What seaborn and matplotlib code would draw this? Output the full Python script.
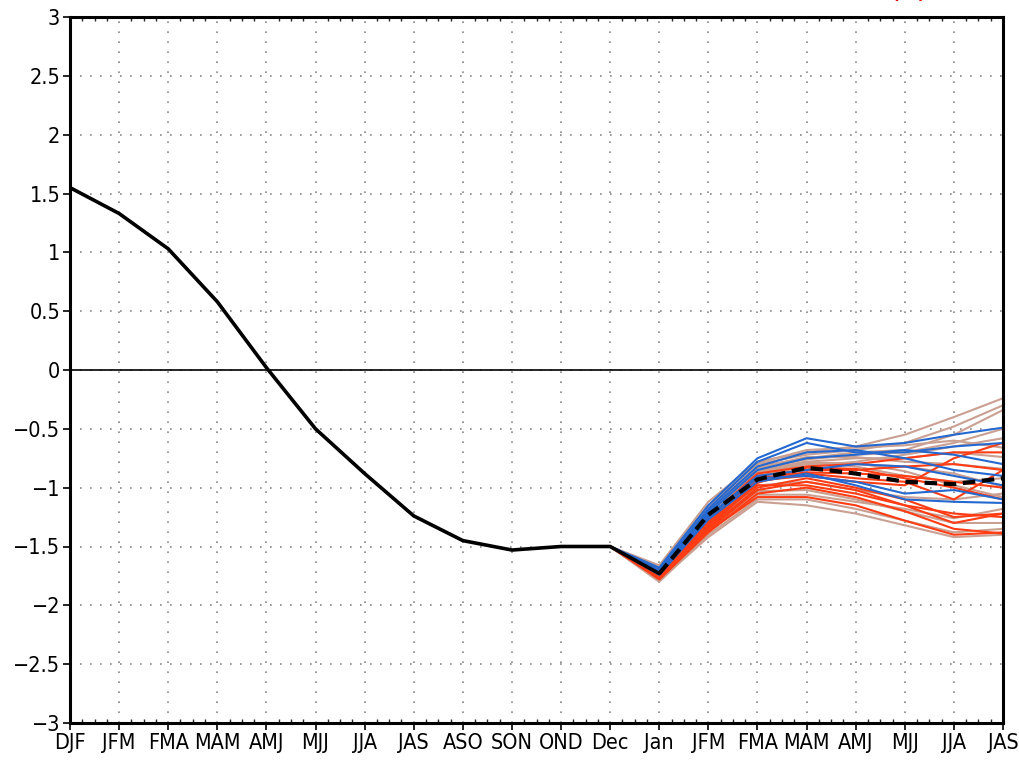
import numpy as np
import pandas as pd
import seaborn as sns
import matplotlib.pyplot as plt
import matplotlib.font_manager as fm
from matplotlib.ticker import AutoMinorLocator

# подписи по оси x (наблюдения + прогноз)
seasons = ["DJF", "JFM", "FMA", "MAM", "AMJ", "MJJ", "JJA", "JAS", "ASO", "SON",
           "OND", "Dec", "Jan", "JFM", "FMA", "MAM", "AMJ", "MJJ", "JJA", "JAS"]
y_ticks = [-3, -2.5, -2, -1.5, -1, -0.5, 0, 0.5, 1, 1.5, 2, 2.5, 3]

# наблюдения DJF..Jan
observed = [1.55, 1.33, 1.03, 0.58, 0.02, -0.50, -0.88, -1.24, -1.45, -1.53,
            -1.50, -1.50, -1.73]

# средний прогноз ансамбля Jan..JAS
ens_mean = [-1.73, -1.23, -0.93, -0.83, -0.88, -0.95, -0.97, -0.92]

# члены ансамбля Dec..JAS
tan_members = [
    [-1.5, -1.66, -1.12, -0.78, -0.70, -0.65, -0.55, -0.40, -0.24],
    [-1.5, -1.68, -1.15, -0.80, -0.72, -0.68, -0.62, -0.48, -0.30],
    [-1.5, -1.70, -1.18, -0.82, -0.75, -0.70, -0.68, -0.55, -0.34],
    [-1.5, -1.72, -1.22, -0.85, -0.78, -0.75, -0.75, -0.70, -0.74],
    [-1.5, -1.74, -1.28, -0.88, -0.80, -0.80, -0.82, -0.88, -0.99],
    [-1.5, -1.76, -1.34, -0.98, -0.95, -1.02, -1.08, -1.10, -1.05],
    [-1.5, -1.79, -1.42, -1.12, -1.15, -1.22, -1.32, -1.42, -1.40],
    [-1.5, -1.80, -1.40, -1.10, -1.10, -1.18, -1.28, -1.38, -1.35],
    [-1.5, -1.75, -1.30, -0.90, -0.82, -0.78, -0.72, -0.65, -0.58],
    [-1.5, -1.78, -1.36, -1.03, -1.02, -1.10, -1.20, -1.30, -1.30],
    [-1.5, -1.73, -1.25, -0.86, -0.78, -0.82, -0.90, -0.95, -0.92],
    [-1.5, -1.71, -1.20, -0.84, -0.76, -0.72, -0.70, -0.62, -0.50],
    [-1.5, -1.69, -1.17, -0.79, -0.68, -0.66, -0.64, -0.60, -0.66],
    [-1.5, -1.77, -1.38, -1.06, -1.06, -1.12, -1.18, -1.26, -1.18],
    [-1.5, -1.72, -1.21, -0.83, -0.74, -0.74, -0.78, -0.80, -0.84],
    [-1.5, -1.74, -1.26, -0.87, -0.79, -0.79, -0.86, -0.98, -1.08],
]
red_members = [
    [-1.5, -1.70, -1.25, -0.88, -0.82, -0.80, -0.75, -0.70, -0.70],
    [-1.5, -1.72, -1.28, -0.90, -0.85, -0.85, -0.82, -0.80, -0.85],
    [-1.5, -1.75, -1.32, -0.95, -0.88, -0.92, -0.95, -1.10, -0.85],
    [-1.5, -1.76, -1.35, -1.00, -0.92, -1.00, -1.10, -1.25, -1.22],
    [-1.5, -1.78, -1.38, -1.05, -1.00, -1.08, -1.20, -1.35, -1.39],
    [-1.5, -1.77, -1.36, -1.02, -0.95, -1.02, -1.15, -1.22, -1.25],
    [-1.5, -1.74, -1.30, -0.92, -0.87, -0.88, -0.90, -0.95, -1.00],
    [-1.5, -1.73, -1.30, -0.98, -0.98, -1.05, -1.15, -1.30, -1.22],
    [-1.5, -1.76, -1.34, -0.96, -0.83, -0.84, -0.92, -1.00, -1.10],
    [-1.5, -1.75, -1.33, -0.94, -0.90, -0.95, -0.98, -0.75, -0.62],
    [-1.5, -1.77, -1.37, -1.08, -1.08, -1.15, -1.28, -1.40, -1.38],
]
blue_members = [
    [-1.5, -1.68, -1.15, -0.75, -0.58, -0.65, -0.62, -0.55, -0.49],
    [-1.5, -1.70, -1.18, -0.78, -0.62, -0.70, -0.70, -0.65, -0.62],
    [-1.5, -1.72, -1.22, -0.85, -0.75, -0.72, -0.68, -0.72, -0.80],
    [-1.5, -1.73, -1.25, -0.92, -0.90, -0.95, -1.05, -1.02, -1.10],
    [-1.5, -1.74, -1.27, -0.95, -0.88, -0.98, -1.10, -1.12, -1.13],
    [-1.5, -1.72, -1.24, -0.90, -0.85, -0.80, -0.82, -0.90, -0.98],
    [-1.5, -1.71, -1.20, -0.82, -0.70, -0.68, -0.75, -0.85, -0.90],
]

colours = {"tan": "#c9a092", "red": "#ff3c14", "blue": "#2468d0"}

# таблица членов ансамбля в длинном формате
rows = []
uid = 0
for group, members in [("tan", tan_members), ("red", red_members), ("blue", blue_members)]:
    for m in members:
        for i, v in enumerate(m):
            rows.append({"x": 11 + i, "y": v, "group": group, "member": uid})
        uid += 1
df = pd.DataFrame(rows)

obs = pd.DataFrame({"x": np.arange(len(observed)), "y": observed})
mean = pd.DataFrame({"x": np.arange(12, 12 + len(ens_mean)), "y": ens_mean})

sns.set_style("ticks")
plt.rcParams["font.family"] = ["DejaVu Sans"]

# ищем узкий прямой шрифт, если он есть
narrow = [f for f in fm.fontManager.ttflist
          if ("Narrow" in f.name or "Condensed" in f.name
              or "condensed" in str(f.stretch))
          and f.style == "normal" and f.weight in (400, "normal", "regular")]
if narrow:
    tick_font = fm.FontProperties(fname=narrow[0].fname, size=15.5)
else:
    tick_font = fm.FontProperties(family="Liberation Sans", size=15)

fig = plt.figure(figsize=(10.19, 7.60), dpi=100)
ax = fig.add_axes([70 / 1019, 37 / 760, 933 / 1019, 706 / 760])

ax.axhline(0, color="black", lw=1.2, zorder=1)
sns.lineplot(data=df, x="x", y="y", hue="group", units="member", estimator=None,
             palette=colours, lw=1.5, legend=False, ax=ax, zorder=2)
sns.lineplot(data=obs, x="x", y="y", color="black", lw=2.6, ax=ax, zorder=4)
sns.lineplot(data=mean, x="x", y="y", color="black", lw=3, ax=ax, zorder=5,
             linestyle=(0, (3, 1.6)))

ax.set_xlim(0, len(seasons) - 1)
ax.set_ylim(-3, 3)
ax.set_xticks(np.arange(len(seasons)))
ax.set_xticklabels(seasons, fontproperties=tick_font)
ax.set_yticks(y_ticks)
ax.set_yticklabels([f"{v:g}".replace("-", "\u2212") for v in y_ticks],
                   fontproperties=tick_font)
ax.xaxis.set_minor_locator(AutoMinorLocator(4))
ax.set_xlabel("")
ax.set_ylabel("")

ax.grid(True, which="major", color="#888888", linestyle=(0, (1, 5)), lw=1.2)
for s in ax.spines.values():
    s.set_linewidth(2.2)
    s.set_color("black")
ax.tick_params(axis="both", which="major", direction="out", length=5, width=1.2,
               pad=2, colors="black")
ax.tick_params(axis="x", which="minor", direction="in", length=3, width=1,
               top=True, bottom=True)

fig.text(0.892, 1.015, "(c)", color="red", fontsize=22, ha="center", va="center")

fig.savefig("out.png", dpi=100)
